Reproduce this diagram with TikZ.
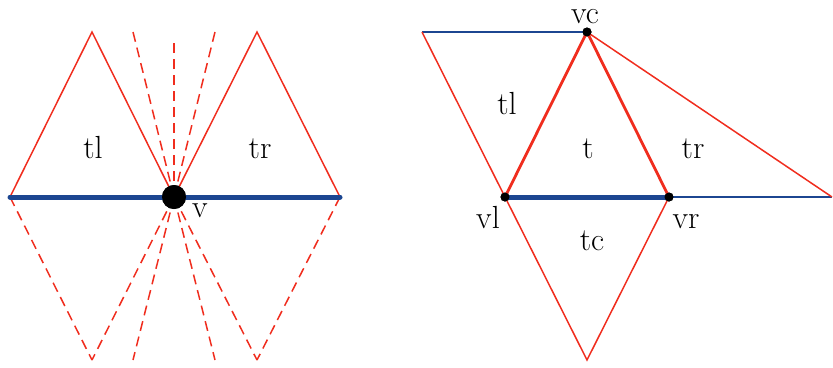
\documentclass[tikz,border=0pt]{standalone}
\definecolor{tred}{RGB}{240,45,30}
\definecolor{tblue}{RGB}{28,70,145}
\begin{document}
\begin{tikzpicture}[x=1pt,y=-1pt,
  redline/.style={draw=tred,line width=1.5pt},
  redthick/.style={draw=tred,line width=2.8pt},
  dashline/.style={draw=tred,line width=1.5pt,dash pattern=on 10pt off 6pt},
  bluethick/.style={draw=tblue,line width=5pt,line cap=round},
  bluethin/.style={draw=tblue,line width=1.7pt},
  lbl/.style={font=\fontsize{32}{38}\selectfont,inner sep=0pt,anchor=base},
  dot/.style={circle,fill=black,inner sep=0pt,minimum size=9pt}]
\useasboundingbox (0,0) rectangle (833,367);
% ---------- left ----------
\coordinate (A) at (10,197);
\coordinate (C) at (340,197);
\coordinate (tlt) at (92,32);
\coordinate (trt) at (257,32);
\coordinate (u1) at (133,32);
\coordinate (u2) at (174,41);
\coordinate (u3) at (215,32);
\coordinate (d1) at (92,360);
\coordinate (d2) at (133,360);
\coordinate (d3) at (215,360);
\coordinate (d4) at (257,360);
\node[circle,fill=black,inner sep=0pt,minimum size=24pt] (v) at (174,197) {};
\draw[redline] (A) -- (tlt) -- (v.center) -- (trt) -- (C);
\foreach \p in {u1,u2,u3,d1,d2,d3,d4} \draw[dashline] (v.center) -- (\p);
\draw[dashline] (A) -- (d1);
\draw[dashline] (C) -- (d4);
\draw[bluethick] (A) -- (C);
\node[circle,fill=black,inner sep=0pt,minimum size=24pt] at (v) {};
\node[lbl] (lv) at (200,217) {v};
\node[lbl] (ltl) at (93,158) {tl};
\node[lbl] (ltr) at (260,158) {tr};
% ---------- right ----------
\coordinate (P) at (422,32);
\coordinate (Q) at (832,197);
\coordinate (bot) at (587,360);
\node[dot] (vc) at (587,32) {};
\node[dot] (vl) at (505,197) {};
\node[dot] (vr) at (669,197) {};
\draw[bluethin] (P) -- (vc.center);
\draw[bluethin] (vr.center) -- (Q);
\draw[redline] (P) -- (vl.center);
\draw[redline] (vc.center) -- (Q);
\draw[redline] (vl.center) -- (bot) -- (vr.center);
\draw[redthick] (vl.center) -- (vc.center) -- (vr.center);
\draw[bluethick,line cap=butt] (vl.center) -- (vr.center);
\node[dot] at (vc) {};
\node[dot] at (vl) {};
\node[dot] at (vr) {};
\node[lbl] (lvc) at (585,23) {vc};
\node[lbl] (lvl) at (488,228) {vl};
\node[lbl] (lvr) at (686,228) {vr};
\node[lbl] (rtl) at (507,114) {tl};
\node[lbl] (rt) at (588,158) {t};
\node[lbl] (rtr) at (693,158) {tr};
\node[lbl] (rtc) at (592,250) {tc};
\end{tikzpicture}
\end{document}
